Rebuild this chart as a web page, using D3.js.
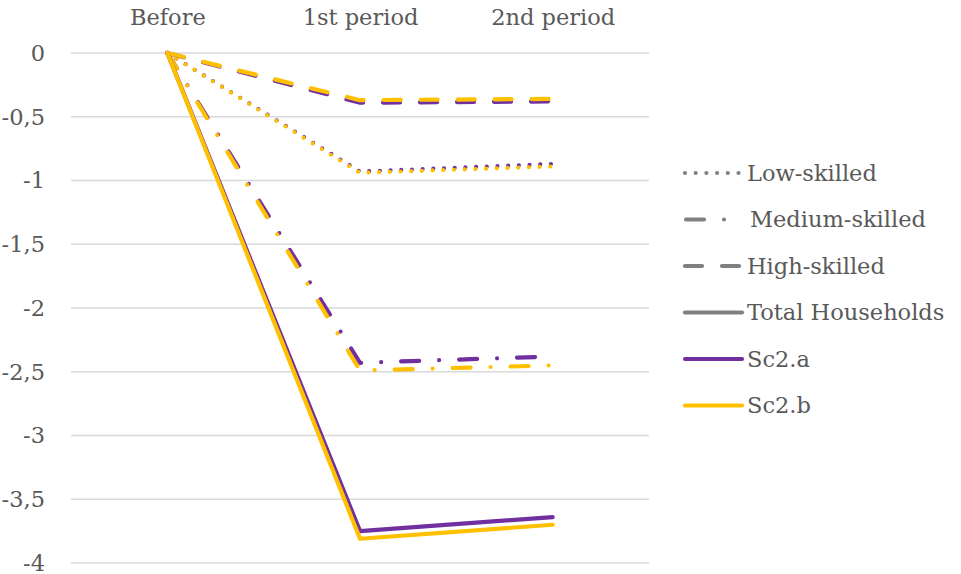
<!DOCTYPE html>
<html><head><meta charset="utf-8">
<script src="https://cdn.jsdelivr.net/npm/d3@7/dist/d3.min.js"></script>
<style>body{margin:0;background:#fff}svg{display:block}text{font-family:"DejaVu Serif",serif;fill:#595959}</style>
</head><body><svg id="c" width="961" height="574"></svg>
<script>
const categories = ["Before", "1st period", "2nd period"];
const yTicks = [0, -0.5, -1, -1.5, -2, -2.5, -3, -3.5, -4];
const yTickLabels = ["0", "-0,5", "-1", "-1,5", "-2", "-2,5", "-3", "-3,5", "-4"];
const skillGroups = ["Low-skilled", "Medium-skilled", "High-skilled", "Total Households"];
const scenarios = ["Sc2.a", "Sc2.b"];
// values per scenario, per skill group, per category
const sc2a_low = [0, -0.93, -0.87];
const sc2a_medium = [0, -2.43, -2.38];
const sc2a_high = [0, -0.39, -0.38];
const sc2a_total = [0, -3.75, -3.64];
const sc2b_low = [0, -0.94, -0.89];
const sc2b_medium = [0, -2.49, -2.45];
const sc2b_high = [0, -0.37, -0.36];
const sc2b_total = [0, -3.81, -3.70];

const colors = {"Sc2.a": "#7030A0", "Sc2.b": "#FFC000"};
const dashes = {"Low-skilled": "0 10.7", "Medium-skilled": "18 20 0 20", "High-skilled": "17 20", "Total Households": null};

const svg = d3.select("#c");
const pLeft = 71, pRight = 649, pTop = 53, pBottom = 563;
const fs = 22.5;
const x = d3.scalePoint().domain(categories).range([pLeft, pRight]).padding(0.5);
const y = d3.scaleLinear().domain([-4, 0]).range([pBottom, pTop]);

// grid
svg.append("g").selectAll("line").data(yTicks).join("line")
  .attr("x1", pLeft).attr("x2", pRight).attr("y1", d => y(d)).attr("y2", d => y(d))
  .attr("stroke", "#d9d9d9").attr("stroke-width", 1.5);

// y labels
svg.append("g").selectAll("text").data(yTicks).join("text")
  .attr("x", 45).attr("y", d => y(d)).attr("dy", "0.35em").attr("text-anchor", "end")
  .attr("font-size", fs).text((d, i) => yTickLabels[i]);

// x labels on top
const xAxis = d3.axisTop(x).tickSize(0).tickPadding(0);
const gx = svg.append("g").attr("transform", "translate(0,25)").call(xAxis);
gx.select(".domain").remove();
gx.selectAll("text").attr("font-size", fs).attr("dy", 0).style("font-family", '"DejaVu Serif",serif').attr("fill", "#595959");

const seriesData = [
  {sc: "Sc2.a", g: "Low-skilled", v: sc2a_low},
  {sc: "Sc2.b", g: "Low-skilled", v: sc2b_low},
  {sc: "Sc2.a", g: "Medium-skilled", v: sc2a_medium},
  {sc: "Sc2.b", g: "Medium-skilled", v: sc2b_medium},
  {sc: "Sc2.a", g: "High-skilled", v: sc2a_high},
  {sc: "Sc2.b", g: "High-skilled", v: sc2b_high},
  {sc: "Sc2.a", g: "Total Households", v: sc2a_total},
  {sc: "Sc2.b", g: "Total Households", v: sc2b_total}
];
const line = d3.line().x((d, i) => x(categories[i])).y(d => y(d));
svg.append("g").selectAll("path").data(seriesData).join("path")
  .attr("d", d => line(d.v)).attr("fill", "none")
  .attr("stroke", d => colors[d.sc]).attr("stroke-width", 4.2)
  .attr("stroke-linecap", "round").attr("stroke-linejoin", "round")
  .attr("stroke-dasharray", d => dashes[d.g]);

// legend
const legendItems = skillGroups.map(g => ({label: g, color: "#808080", dash: dashes[g]}))
  .concat(scenarios.map(s => ({label: s, color: colors[s], dash: null})));
const lg = svg.append("g").selectAll("g").data(legendItems).join("g")
  .attr("transform", (d, i) => `translate(0,${173 + i * 46.5})`);
lg.append("line").attr("x1", d => d.label === "Medium-skilled" ? 686 : 685).attr("x2", 742).attr("y1", 0).attr("y2", 0)
  .attr("stroke", d => d.color).attr("stroke-width", 4.2).attr("stroke-linecap", "round")
  .attr("stroke-dasharray", d => d.dash);
lg.append("text").attr("x", d => d.label === "Medium-skilled" ? 750 : 747).attr("y", 0).attr("dy", "0.35em")
  .attr("font-size", fs).text(d => d.label);
</script></body></html>
